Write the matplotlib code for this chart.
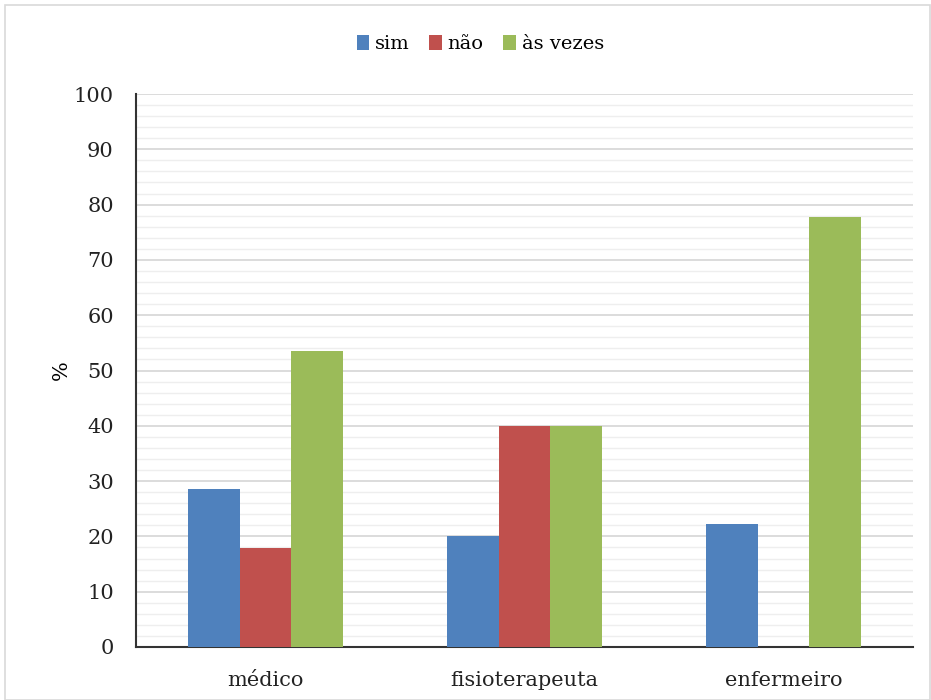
import numpy as np
import matplotlib.pyplot as plt
from matplotlib.patches import Rectangle

categorias = ['médico', 'fisioterapeuta', 'enfermeiro']
series = ['sim', 'não', 'às vezes']
sim = [28.6, 20.0, 22.2]
nao = [17.9, 40.0, 0.0]
as_vezes = [53.6, 40.0, 77.8]
cores = ['#4F81BD', '#C0504D', '#9BBB59']

plt.rcParams['font.family'] = ['DejaVu Serif']

fig = plt.figure(figsize=(9.31, 7.0), dpi=100)
ax = fig.add_axes([136 / 931, 1 - 647 / 700, 777 / 931, 553 / 700])

# moldura externa do grafico
fig.patches.append(Rectangle((5 / 931, 0.0), 925 / 931, 1 - 5 / 700,
                             transform=fig.transFigure, fill=False,
                             edgecolor='#d9d9d9', linewidth=1.2))

x = np.arange(len(categorias))
w = 0.2
for i, (nome, vals) in enumerate(zip(series, [sim, nao, as_vezes])):
    ax.bar(x + (i - 1) * w, vals, w, color=cores[i], label=nome, zorder=3)

ax.set_xlim(-0.5, 2.5)
ax.set_ylim(0, 100)
ax.set_yticks(range(0, 101, 10))
ax.set_yticks(range(0, 101, 2), minor=True)
ax.grid(axis='y', which='major', color='#d9d9d9', linewidth=1.3, zorder=0)
ax.grid(axis='y', which='minor', color='#eeeeee', linewidth=1.0, zorder=0)
ax.set_xticks(x)
ax.set_xticklabels(categorias)
ax.tick_params(axis='both', which='both', length=0, labelsize=15, colors='#222222')
ax.tick_params(axis='x', pad=17)
ax.tick_params(axis='y', pad=16)
for s in ['top', 'right']:
    ax.spines[s].set_visible(False)
for s in ['left', 'bottom']:
    ax.spines[s].set_color('#333333')
    ax.spines[s].set_linewidth(1.5)
ax.set_ylabel('%', fontsize=15, labelpad=2)

ax.legend(loc='center', bbox_to_anchor=(0.443, 1.0 + 50 / 553), ncol=3, frameon=False,
          fontsize=14, handlelength=0.65, handleheight=0.85, handletextpad=0.3,
          columnspacing=1.0)

fig.savefig('out.png', dpi=100)
